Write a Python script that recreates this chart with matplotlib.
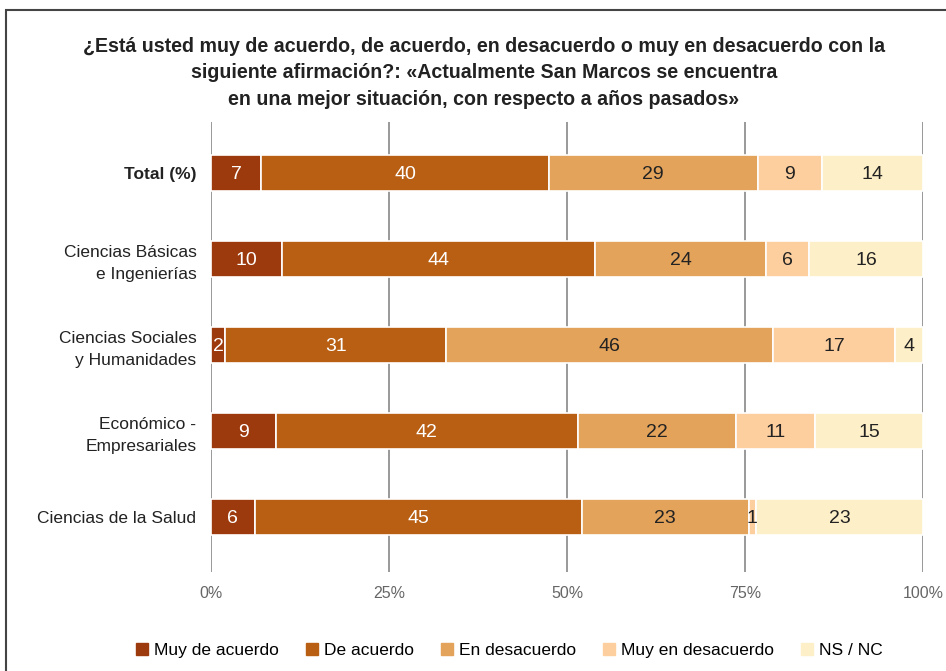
import matplotlib
matplotlib.use("Agg")
import matplotlib.pyplot as plt
from matplotlib.patches import Rectangle
from matplotlib.lines import Line2D
import numpy as np

plt.rcParams['font.family'] = ['Liberation Sans', 'DejaVu Sans']

categories = ["Total (%)", "Ciencias Básicas\ne Ingenierías", "Ciencias Sociales\ny Humanidades",
              "Económico -\nEmpresariales", "Ciencias de la Salud"]
series = ["Muy de acuerdo", "De acuerdo", "En desacuerdo", "Muy en desacuerdo", "NS / NC"]
muy_de_acuerdo = [7, 10, 2, 9, 6]
de_acuerdo = [40, 44, 31, 42, 45]
en_desacuerdo = [29, 24, 46, 22, 23]
muy_en_desacuerdo = [9, 6, 17, 11, 1]
ns_nc = [14, 16, 4, 15, 23]
xticklabels = ["0%", "25%", "50%", "75%", "100%"]

colors = ["#9C3A0E", "#B85F13", "#E3A35B", "#FDCF9E", "#FDEFC8"]
text_colors = ["white", "white", "#222222", "#222222", "#222222"]

data = np.array([muy_de_acuerdo, de_acuerdo, en_desacuerdo, muy_en_desacuerdo, ns_nc], dtype=float)
totals = data.sum(axis=0)
pct = data / totals * 100

fig = plt.figure(figsize=(9.46, 6.71), dpi=100)
ax = fig.add_axes([211/946, 1-572/671, 712/946, 450/671])

y = np.arange(len(categories))
left = np.zeros(len(categories))
for i, s in enumerate(series):
    ax.barh(y, pct[i], left=left, height=0.42, color=colors[i], edgecolor="white",
            linewidth=1.2, label=s, zorder=3)
    for j in range(len(categories)):
        ax.text(left[j] + pct[i][j]/2, y[j], f"{int(data[i][j])}", ha="center",
                va="center_baseline", color=text_colors[i], fontsize=14, zorder=4)
    left += pct[i]

ax.set_xlim(0, 100)
ax.set_ylim(4.64, -0.593)
ax.set_xticks([0, 25, 50, 75, 100])
ax.set_xticklabels(xticklabels, color="#666666", fontsize=11.5)
ax.tick_params(axis="x", length=0, pad=10)
ax.set_yticks(y)
ax.set_yticklabels(categories, fontsize=12.5, color="#222222")
for lbl in ax.get_yticklabels():
    lbl.set_linespacing(1.55)
ax.get_yticklabels()[0].set_fontweight("bold")
ax.tick_params(axis="y", length=0, pad=10.5)
for sp in ax.spines.values():
    sp.set_visible(False)
ax.xaxis.grid(True, color="#888888", linewidth=1.2, zorder=0)
ax.set_axisbelow(True)

fig.text(484/946, 1-73/671,
         "¿Está usted muy de acuerdo, de acuerdo, en desacuerdo o muy en desacuerdo con la\n"
         "siguiente afirmación?: «Actualmente San Marcos se encuentra\n"
         "en una mejor situación, con respecto a años pasados»",
         ha="center", va="center", fontsize=14.1, fontweight="bold", color="#222222",
         linespacing=1.5)

handles = [Line2D([0], [0], marker="s", linestyle="", markersize=9, markerfacecolor=c,
                  markeredgecolor=c) for c in colors]
fig.legend(handles, series, loc="center", bbox_to_anchor=(508/946, 1-650/671), ncol=5,
           frameon=False, fontsize=12.5, handletextpad=0.2, columnspacing=1.4, handlelength=1.0)

fig.add_artist(Rectangle((6/946, -0.1), 1.2, 1-10/671+0.1, transform=fig.transFigure,
                         fill=False, edgecolor="#444444", linewidth=1.5))

fig.savefig("out.png", dpi=100)
